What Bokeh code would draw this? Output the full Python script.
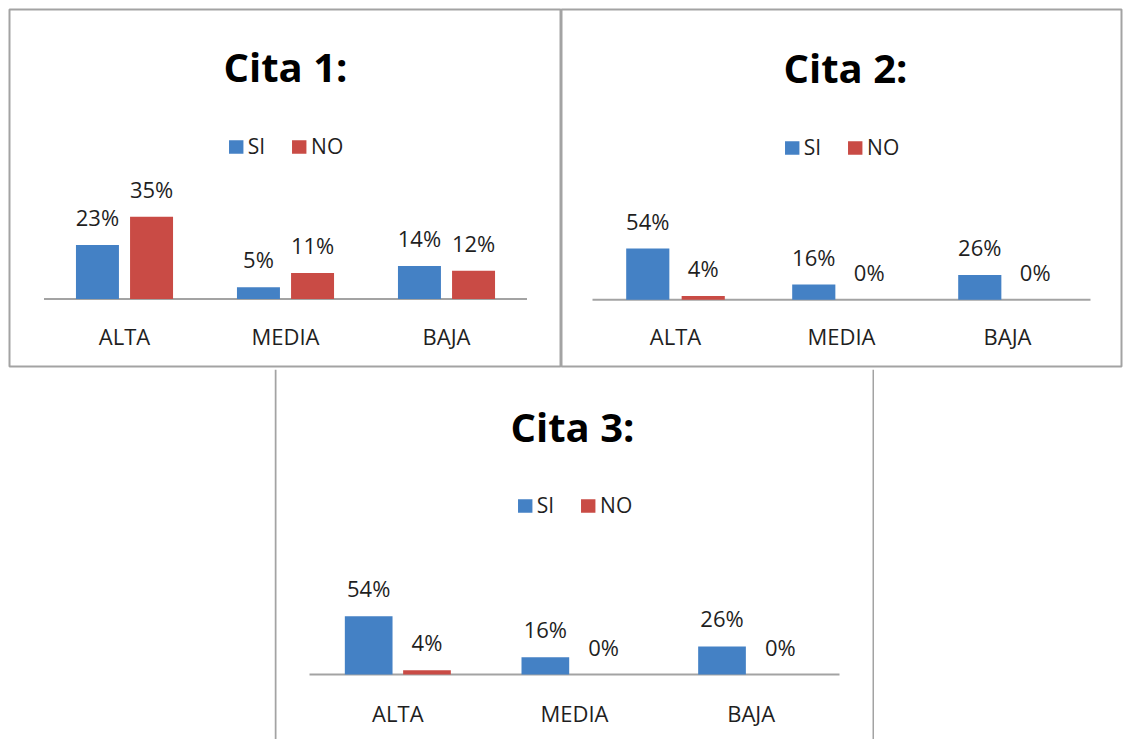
from bokeh.plotting import figure
from bokeh.models import FactorRange, Range1d, Label, Span, Spacer, ColumnDataSource
from bokeh.layouts import column, row
from bokeh.transform import dodge
from bokeh.core.properties import value
from bokeh.embed import file_html
from bokeh.resources import INLINE

# ---------------- data ----------------
categories = ["ALTA", "MEDIA", "BAJA"]
series = ["SI", "NO"]
titles = ["Cita 1:", "Cita 2:", "Cita 3:"]
cita1_si = [23, 5, 14]
cita1_no = [35, 11, 12]
cita2_si = [54, 16, 26]
cita2_no = [4, 0, 0]
cita3_si = [54, 16, 26]
cita3_no = [4, 0, 0]

# ---------------- style ----------------
FONT = "Open Sans"
TXT = "#1f1f1f"
GREY = "#a3a3a3"
SI_COLOR = "#4481c5"
NO_COLOR = "#c94b45"


def panel(title, si, no, w, h, mb, axis_px, pad_px, px_per_pct, bar_w, off,
          title_px, title_x, legend_margin, cat_off, outline=True):
    fw = w - mb[0] - mb[2]
    fh = h - mb[1] - mb[3]
    band = (fw - 2 * pad_px) / len(categories)
    rp = 2 * (pad_px / band) / len(categories)
    y0 = -(fh - axis_px) / px_per_pct
    y1 = axis_px / px_per_pct
    p = figure(x_range=FactorRange(*categories, range_padding=rp),
               y_range=Range1d(y0, y1), width=w, height=h,
               output_backend="svg", toolbar_location=None,
               x_axis_location=None, y_axis_location=None,
               min_border_left=mb[0], min_border_top=mb[1],
               min_border_right=mb[2], min_border_bottom=mb[3])
    p.xgrid.visible = False
    p.ygrid.visible = False
    p.background_fill_color = "white"
    p.border_fill_color = "white"
    if outline:
        p.outline_line_color = GREY
        p.outline_line_width = 2
    else:
        p.outline_line_color = None
        p.add_layout(Span(location=1, dimension="height", location_units="screen",
                          line_color=GREY, line_width=2))
        p.add_layout(Span(location=w - 1, dimension="height", location_units="screen",
                          line_color=GREY, line_width=2))

    src = ColumnDataSource(dict(
        cat=categories, si=si, no=no,
        si_lbl=[f"{v}%" for v in si], no_lbl=[f"{v}%" for v in no],
        zero=[0] * len(categories)))

    # baseline (category axis line)
    p.segment(x0=0, x1=len(categories), y0=0, y1=0, line_color=GREY, line_width=2)

    p.vbar(x=dodge("cat", -off, range=p.x_range), top="si", width=bar_w, source=src,
           fill_color=SI_COLOR, line_color=None, legend_label=series[0])
    p.vbar(x=dodge("cat", off, range=p.x_range), top="no", width=bar_w, source=src,
           fill_color=NO_COLOR, line_color=None, legend_label=series[1])

    for col, lbl, sgn in (("si", "si_lbl", -1), ("no", "no_lbl", 1)):
        p.text(x=dodge("cat", sgn * off, range=p.x_range), y=col, text=lbl, source=src,
               text_font=value(FONT), text_font_size="22px", text_color=TXT,
               text_align="center", text_baseline="middle", y_offset=-28)

    p.text(x="cat", y="zero", text="cat", source=src,
           text_font=value(FONT), text_font_size="22px", text_color=TXT,
           text_align="center", text_baseline="middle", y_offset=cat_off)

    p.add_layout(Label(x=title_x, y=(axis_px - title_px) / px_per_pct,
                       x_units="screen", y_units="data", text=title,
                       text_font=FONT, text_font_style="bold", text_font_size="40px",
                       text_color="#000000", text_align="center",
                       text_baseline="alphabetic"))

    lg = p.legend[0]
    lg.location = "top_center"
    lg.orientation = "horizontal"
    lg.margin = legend_margin
    lg.padding = 0
    lg.spacing = 25
    lg.label_standoff = 3
    lg.glyph_width = 18
    lg.glyph_height = 17
    lg.label_width = 0
    lg.border_line_color = None
    lg.background_fill_alpha = 0
    lg.label_text_font = FONT
    lg.label_text_font_size = "21px"
    lg.label_text_color = TXT
    return p


# panel(title, si, no, width, height, (left, top, right, bottom) borders, axis px from frame top,
#       side padding px, px per %, bar width, dodge offset, title px, title x, legend margin, cat label offset)
p1 = panel(titles[0], cita1_si, cita1_no, 561, 369, (9, 9, 0, 1), 291, 34.5, 2.36,
           0.267, 0.168, 57.5, 276, 123, 37.5)
p2 = panel(titles[1], cita2_si, cita2_no, 563, 369, (0, 8, 3, 3), 291, 31, 0.95,
           0.26, 0.167, 58.5, 284, 124, 36)
p3 = panel(titles[2], cita3_si, cita3_no, 600, 370, (0, 0, 0, 0), 305, 35, 1.08,
           0.27, 0.165, 56.5, 298, 122, 38, outline=False)

layout = column(row(p1, p2), row(Spacer(width=274, height=370), p3))

open("out.html", "w").write(file_html(layout, INLINE))
